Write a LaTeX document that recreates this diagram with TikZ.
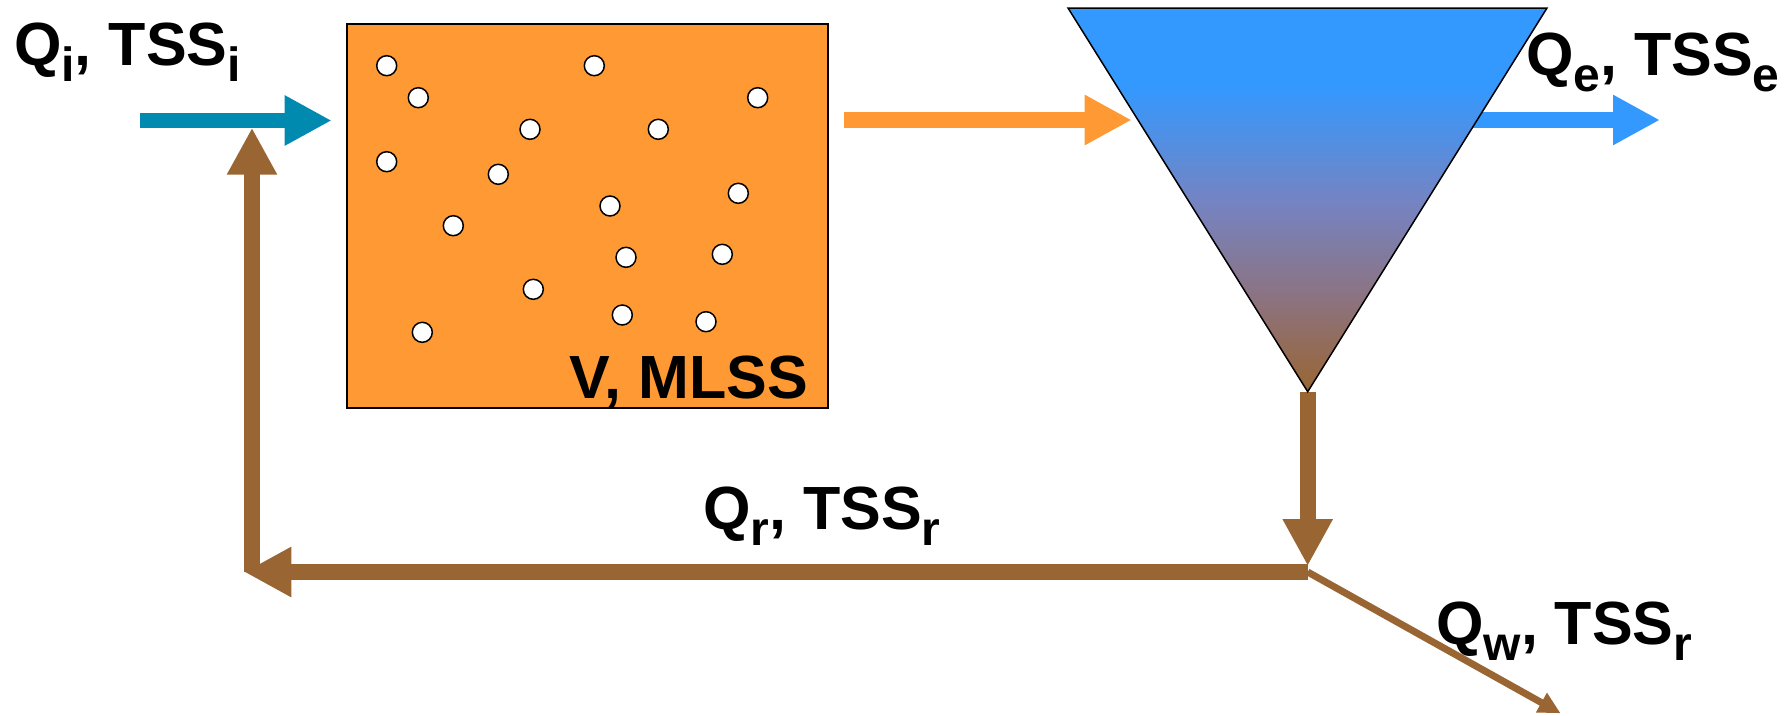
\documentclass[tikz,border=0pt]{standalone}
\usepackage{fontspec}
\setmainfont{Liberation Sans}
\usetikzlibrary{arrows.meta}

\definecolor{inflow}{RGB}{0,138,176}
\definecolor{mixed}{RGB}{255,153,51}
\definecolor{clear}{RGB}{51,153,255}
\definecolor{sludge}{RGB}{153,102,51}
\definecolor{shadeA}{RGB}{116,132,196}
\definecolor{shadeB}{RGB}{140,115,130}

% settler fill: clear water on top, sludge at the bottom
\pgfdeclareverticalshading{settler}{100bp}{color(0bp)=(sludge); color(25bp)=(sludge); color(37.5bp)=(shadeB); color(50bp)=(shadeA); color(65bp)=(clear); color(100bp)=(clear)}

\newcommand\flowsub[1]{\raisebox{-16pt}{\fontsize{48}{48}\selectfont #1}}

\tikzset{
  flow/.style={line width=15.6pt, -{Triangle[length=47pt,width=47pt]}},
  waste/.style={line width=7pt, -{Triangle[length=22pt,width=21pt]}},
  streamtxt/.style={font=\fontsize{61}{61}\selectfont\bfseries, inner sep=0pt},
  floc/.style={circle, draw=black, fill=white, line width=1.5pt, minimum size=20pt, inner sep=0pt},
  tankbox/.style={draw=black, line width=2pt, fill=mixed, minimum width=481pt, minimum height=384pt, inner sep=0pt}
}

\begin{document}
\begin{tikzpicture}[x=1pt,y=-1pt]
\path[use as bounding box, clip] (0,0) rectangle (1785,715);

% aeration tank
\node[tankbox] (tank) at (587.8,216) {};
\foreach \px/\py [count=\k] in {386.7/65.7, 418.3/97.7, 594.3/65.7, 757.7/97.7, 530/129.3,
    658.3/129.3, 386.7/161.7, 498.3/174.3, 738.3/193.3, 610/206, 453.3/225.7,
    626/257.3, 722.3/254.3, 533.3/289.3, 622.3/315, 706/321.7, 422.3/332.3}
  \node[floc] (floc\k) at (\px,\py) {};
\node[streamtxt, anchor=base east] (tanklbl) at (808,398) {V, MLSS};

% key points of the flow scheme
\coordinate (feedStart) at (140,120.5);
\coordinate (feedEnd)   at (331.7,120.5);
\coordinate (mixStart)  at (844,120);
\coordinate (mixEnd)    at (1131.7,120);
\coordinate (effStart)  at (1460,120);
\coordinate (effEnd)    at (1660,120);
\coordinate (settlerL)  at (1068,8);
\coordinate (settlerR)  at (1547,8);
\coordinate (settlerB)  at (1307.7,391.7);
\coordinate (dropEnd)   at (1307.7,566);
\coordinate (split)     at (1307.7,572);
\coordinate (retEnd)    at (244.3,572);
\coordinate (riseStart) at (252,572);
\coordinate (riseEnd)   at (252,127.7);
\coordinate (wasteEnd)  at (1560.6,713.3);

% streams
\draw[flow, inflow] (feedStart) -- (feedEnd);
\draw[flow, mixed] (mixStart) -- (mixEnd);
\draw[flow, clear] (effStart) -- (effEnd);
\draw[flow, sludge] (settlerB) -- (dropEnd);
\draw[flow, sludge] (split) -- (retEnd);
\draw[flow, sludge] (riseStart) -- (riseEnd);
\draw[waste, sludge] (split) -- (wasteEnd);

% clarifier
\path[draw=black, line width=1.5pt, shading=settler] (settlerL) -- (settlerR) -- (settlerB) -- cycle;

% stream labels
\node[streamtxt, anchor=base west] (feedlbl) at (14,65) {Q\flowsub{i}, TSS\flowsub{i}};
\node[streamtxt, anchor=base west] (efflbl) at (1526,75) {Q\flowsub{e}, TSS\flowsub{e}};
\node[streamtxt, anchor=base west] (retlbl) at (703,529) {Q\flowsub{r}, TSS\flowsub{r}};
\node[streamtxt, anchor=base west] (wastelbl) at (1436,644) {Q\flowsub{w}, TSS\flowsub{r}};
\end{tikzpicture}
\end{document}
